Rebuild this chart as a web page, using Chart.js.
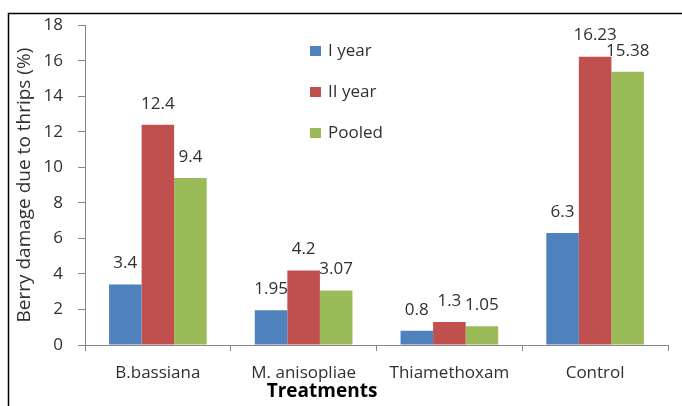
<!DOCTYPE html>
<html>
<head>
<meta charset="utf-8">
<script src="https://cdn.jsdelivr.net/npm/chart.js@4/dist/chart.umd.min.js"></script>
<style>
html,body{margin:0;padding:0;background:#fff;}
#wrap{width:682px;height:406px;position:relative;}
</style>
</head>
<body>
<div id="wrap"><canvas id="c" width="682" height="406"></canvas></div>
<script>
const categories = ["B.bassiana", "M. anisopliae", "Thiamethoxam", "Control"];
const seriesNames = ["I year", "II year", "Pooled"];
const year1 = [3.4, 1.95, 0.8, 6.3];
const year2 = [12.4, 4.2, 1.3, 16.23];
const pooled = [9.4, 3.07, 1.05, 15.38];
const valueLabels1 = ["3.4", "1.95", "0.8", "6.3"];
const valueLabels2 = ["12.4", "4.2", "1.3", "16.23"];
const valueLabels3 = ["9.4", "3.07", "1.05", "15.38"];
const yTicks = [0, 2, 4, 6, 8, 10, 12, 14, 16, 18];
const colors = ["#4F81BD", "#C0504D", "#9BBB59"];
const xTitle = "Treatments";
const yTitle = "Berry damage due to thrips (%)";

const FONT = "'Open Sans', 'Liberation Sans', sans-serif";
const TEXT = "#303030";
const AXIS = "#868686";

const labelsPlugin = {
  id: 'valLabels',
  afterDatasetsDraw(chart) {
    const ctx = chart.ctx;
    const lbls = [valueLabels1, valueLabels2, valueLabels3];
    ctx.save();
    ctx.font = "17px " + FONT;
    ctx.fillStyle = TEXT;
    ctx.textAlign = 'center';
    ctx.textBaseline = 'middle';
    chart.data.datasets.forEach((ds, di) => {
      const meta = chart.getDatasetMeta(di);
      meta.data.forEach((bar, i) => {
        ctx.fillText(lbls[di][i], bar.x, bar.y - 21);
      });
    });
    ctx.restore();
  }
};

const legendPlugin = {
  id: 'inLegend',
  afterDraw(chart) {
    const ctx = chart.ctx;
    ctx.save();
    ctx.font = "17px " + FONT;
    ctx.textBaseline = 'middle';
    ctx.textAlign = 'left';
    chart.data.datasets.forEach((ds, i) => {
      const y = 51 + i * 41;
      ctx.fillStyle = ds.backgroundColor;
      ctx.fillRect(310, y - 5, 11, 10);
      ctx.fillStyle = TEXT;
      ctx.fillText(ds.label, 328, y);
    });
    ctx.restore();
  }
};

const titlesPlugin = {
  id: 'titles',
  afterDraw(chart) {
    const ctx = chart.ctx;
    const ca = chart.chartArea;
    ctx.save();
    ctx.textAlign = 'center';
    ctx.textBaseline = 'middle';
    ctx.fillStyle = '#000';
    ctx.font = "bold 19px " + FONT;
    ctx.fillText(xTitle, 322, 392);
    ctx.translate(25, (ca.top + ca.bottom) / 2);
    ctx.rotate(-Math.PI / 2);
    ctx.fillStyle = TEXT;
    ctx.font = "19px " + FONT;
    ctx.fillText(yTitle, 0, 0);
    ctx.restore();
  }
};

const borderPlugin = {
  id: 'frame',
  afterDraw(chart) {
    const ctx = chart.ctx;
    ctx.save();
    ctx.strokeStyle = '#000';
    ctx.lineWidth = 1.5;
    ctx.beginPath();
    ctx.moveTo(8.5, 406);
    ctx.lineTo(8.5, 13.5);
    ctx.lineTo(682, 13.5);
    ctx.stroke();
    ctx.restore();
  }
};

new Chart(document.getElementById('c'), {
  type: 'bar',
  data: {
    labels: categories,
    datasets: [
      { label: seriesNames[0], data: year1, backgroundColor: colors[0] },
      { label: seriesNames[1], data: year2, backgroundColor: colors[1] },
      { label: seriesNames[2], data: pooled, backgroundColor: colors[2] }
    ]
  },
  options: {
    responsive: false,
    animation: false,
    devicePixelRatio: 1,
    layout: { padding: { left: 0, top: 22, right: 14, bottom: 0 } },
    datasets: { bar: { categoryPercentage: 0.67, barPercentage: 1.0, borderWidth: 0 } },
    plugins: { legend: { display: false }, tooltip: { enabled: false } },
    scales: {
      x: {
        grid: { display: true, drawOnChartArea: false, drawTicks: true, tickLength: 6, color: AXIS, offset: true },
        border: { color: AXIS, width: 1 },
        ticks: { color: TEXT, font: { family: FONT, size: 17 }, padding: 12, maxRotation: 0 },
        afterFit(s) { s.height = 61; }
      },
      y: {
        min: 0, max: 18,
        afterBuildTicks(s) { s.ticks = yTicks.map(v => ({ value: v })); },
        grid: { display: true, drawOnChartArea: false, drawTicks: true, tickLength: 7, color: AXIS },
        border: { color: AXIS, width: 1 },
        ticks: { color: TEXT, font: { family: FONT, size: 17 }, padding: 15 },
        afterFit(s) { s.width = 85; }
      }
    }
  },
  plugins: [labelsPlugin, legendPlugin, titlesPlugin, borderPlugin]
});
</script>
</body>
</html>
